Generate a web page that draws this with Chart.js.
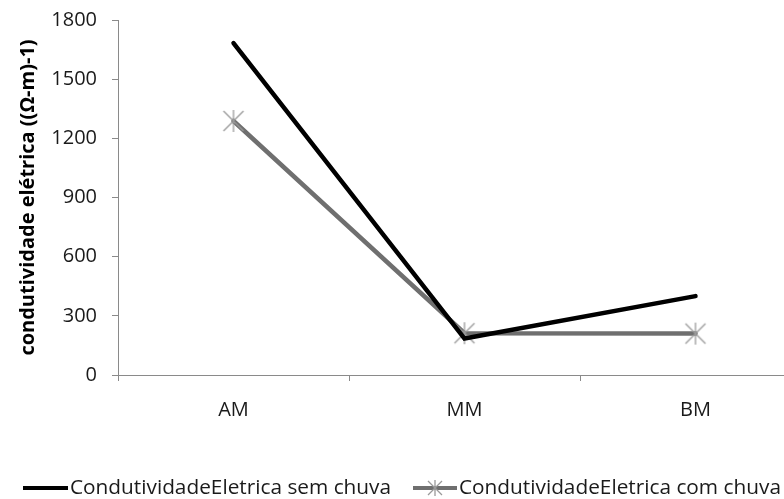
<!DOCTYPE html>
<html>
<head>
<meta charset="utf-8">
<script src="https://cdn.jsdelivr.net/npm/chart.js@4/dist/chart.umd.min.js"></script>
<style>
  html, body { margin: 0; padding: 0; background: #fff; width: 784px; height: 499px; overflow: hidden; }
  canvas { display: block; }
</style>
</head>
<body>
<canvas id="chart" width="830" height="499"></canvas>
<script>
const categories = ['AM', 'MM', 'BM'];
const semChuva = [1683, 185, 400];
const comChuva = [1288, 212, 210];
const yMin = 0;
const yMax = 1800;
const yStep = 300;
const seriesNames = ['CondutividadeEletrica sem chuva', 'CondutividadeEletrica com chuva'];
const yTitle = 'condutividade elétrica ((Ω-m)-1)';

const FONT = '"Open Sans", sans-serif';

// asterisk marker: an X with a vertical bar through it
function makeStar(size, color) {
    const c = document.createElement('canvas');
    c.width = size;
    c.height = size;
    const ctx = c.getContext('2d');
    const h = size / 2;
    const d = h - 2;
    const v = h - 1;
    ctx.strokeStyle = color;
    ctx.lineWidth = 1.3;
    ctx.beginPath();
    ctx.moveTo(h - d, h - d); ctx.lineTo(h + d, h + d);
    ctx.moveTo(h + d, h - d); ctx.lineTo(h - d, h + d);
    ctx.moveTo(h, h - v); ctx.lineTo(h, h + v);
    ctx.stroke();
    return c;
}
const star = makeStar(24, '#9a9a9a');
const legendStar = makeStar(18, '#9a9a9a');

// legend along the bottom, drawn straight on the canvas
const bottomLegend = {
    id: 'bottomLegend',
    afterDraw(chart) {
        const ctx = chart.ctx;
        const y = 488;
        const items = [
            { x0: 23, x1: 68, color: '#000000', marker: null, text: seriesNames[0] },
            { x0: 413, x1: 457, color: '#6f6f6f', marker: legendStar, text: seriesNames[1] }
        ];
        ctx.save();
        items.forEach(it => {
            ctx.strokeStyle = it.color;
            ctx.lineWidth = 4;
            ctx.beginPath();
            ctx.moveTo(it.x0, y);
            ctx.lineTo(it.x1, y);
            ctx.stroke();
            if (it.marker) {
                const mx = (it.x0 + it.x1) / 2;
                ctx.drawImage(it.marker, mx - it.marker.width / 2, y - it.marker.height / 2);
            }
            ctx.fillStyle = '#1a1a1a';
            ctx.font = '20.8px ' + FONT;
            ctx.textBaseline = 'middle';
            ctx.textAlign = 'left';
            ctx.fillText(it.text, it.x1 + 2, y);
        });
        ctx.restore();
    }
};

new Chart(document.getElementById('chart'), {
    type: 'line',
    data: {
        labels: categories,
        datasets: [
            {
                label: seriesNames[0],
                data: semChuva,
                borderColor: '#000000',
                borderWidth: 4.5,
                borderCapStyle: 'round',
                pointRadius: 0,
                tension: 0
            },
            {
                label: seriesNames[1],
                data: comChuva,
                borderColor: '#6f6f6f',
                borderWidth: 4.5,
                borderCapStyle: 'round',
                pointStyle: star,
                pointRadius: 12,
                tension: 0
            }
        ]
    },
    options: {
        responsive: false,
        animation: false,
        layout: { padding: { top: 20, left: 0, right: 19, bottom: 0 } },
        plugins: {
            legend: { display: false },
            tooltip: { enabled: false }
        },
        scales: {
            x: {
                type: 'category',
                offset: true,
                grid: { offset: true, drawOnChartArea: false, tickLength: 6, color: '#8a8a8a' },
                border: { color: '#8a8a8a', width: 1 },
                ticks: { color: '#1a1a1a', font: { family: FONT, size: 20 }, padding: 17 },
                afterFit(scale) { scale.height = 124; }
            },
            y: {
                min: yMin,
                max: yMax,
                grid: { drawOnChartArea: false, tickLength: 6, color: '#8a8a8a' },
                border: { color: '#8a8a8a', width: 1 },
                ticks: {
                    stepSize: yStep,
                    color: '#1a1a1a',
                    font: { family: FONT, size: 20 },
                    padding: 15,
                    callback: v => String(v)
                },
                title: {
                    display: true,
                    text: yTitle,
                    color: '#000000',
                    font: { family: FONT, size: 20, weight: 'bold' },
                    padding: { top: 16, bottom: 0 }
                },
                afterFit(scale) {
                    scale.width = 118;
                    // plot top is fixed by layout padding, not by the label overhang
                    scale.paddingTop = 0;
                    scale.paddingBottom = 0;
                }
            }
        }
    },
    plugins: [bottomLegend]
});
</script>
</body>
</html>
